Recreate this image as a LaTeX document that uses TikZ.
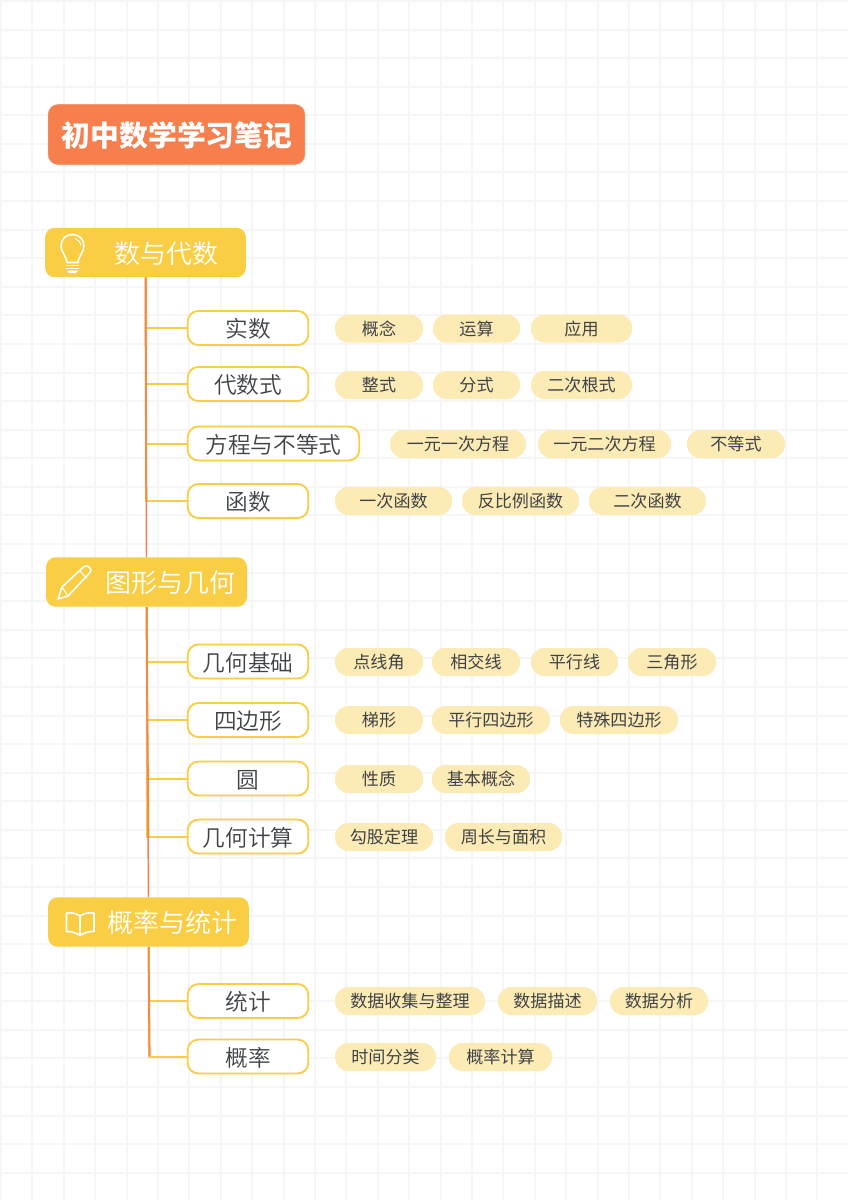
\documentclass[tikz,border=0pt]{standalone}
\usepackage{fontspec}
\usetikzlibrary{backgrounds}
\setmainfont{Noto Sans CJK SC}
\newfontfamily\cjklight{Noto Sans CJK SC DemiLight}
\definecolor{titleorange}{HTML}{F67F4D}
\definecolor{mainyellow}{HTML}{F9CE44}
\definecolor{tagfill}{HTML}{FDEBB5}
\definecolor{gridgray}{HTML}{F6F6F6}
\definecolor{inkgray}{HTML}{3F4348}
\definecolor{stemorange}{HTML}{F58A42}
\tikzset{
  x=0.75pt,y=-0.75pt,
  gridline/.style={gridgray,line width=1.5pt},
  titlebox/.style={fill=titleorange,draw=titleorange!80!white,line width=0.4pt,rounded corners=7.5pt,inner sep=0pt,minimum height=45pt,minimum width=192.5pt,text=white,text height=20.4pt,text depth=2.6pt,font=\fontsize{21.6pt}{24pt}\selectfont\bfseries},
  mainbox/.style={fill=mainyellow,rounded corners=7pt,inner sep=0pt,minimum height=37pt,minimum width=150.5pt,text=white,text height=18.7pt,text depth=2.3pt,font=\fontsize{19.5pt}{22pt}\selectfont\cjklight},
  childbox/.style={fill=white,draw=mainyellow,line width=1.4pt,rounded corners=8pt,inner sep=0pt,minimum height=25.5pt,text=inkgray,text height=16.5pt,text depth=2pt,font=\fontsize{17pt}{20pt}\selectfont\cjklight},
  tagbox/.style={fill=tagfill,rounded corners=10pt,inner sep=0pt,minimum height=21pt,text=inkgray,text height=11.9pt,text depth=1.5pt,font=\fontsize{12.8pt}{15pt}\selectfont},
  branch/.style={mainyellow,line width=1.5pt},
  trunk/.style={titleorange,line width=1.1pt},
  stem/.style={stemorange,line width=1.5pt},
  icon/.style={white,line width=1.2pt,line join=round,line cap=round},
}
\newcommand{\tagn}[5]{\node[tagbox,minimum width={(#3-#2)*0.75pt}] (#1) at ({(#2+#3)/2},#4) {#5};}
\newcommand{\childn}[5]{\node[childbox,minimum width={(#3-#2-1.5)*0.75pt}] (#1) at ({(#2+#3)/2},#4) {#5};}
\begin{document}
\begin{tikzpicture}
\useasboundingbox (0,0) rectangle (848,1200);

\node[titlebox] (title) at (176.5,134.5) {\hspace{1pt}初中数学学习笔记};

\node[mainbox] (m1) at (145.5,252.5) {\hspace{31pt}数与代数};
\node[mainbox] (m2) at (146.5,582) {\hspace{36pt}图形与几何};
\node[mainbox] (m3) at (148.5,922) {\hspace{36pt}概率与统计};

% children
\childn{c11}{187}{309}{328}{实数}
\childn{c12}{187}{309}{384}{代数式}
\childn{c13}{187}{360}{443.5}{方程与不等式}
\childn{c14}{187}{309}{501}{函数}
\childn{c21}{187}{309}{661.5}{几何基础}
\childn{c22}{187}{309}{720}{四边形}
\childn{c23}{187}{309}{778.5}{圆}
\childn{c24}{187}{309}{836.5}{几何计算}
\childn{c31}{187}{309}{1001}{统计}
\childn{c32}{187}{309}{1056.5}{概率}

\coordinate (e1) at (146.3,500);
\coordinate (e2) at (148.3,836);
\coordinate (e3) at (149.6,1056);

\begin{pgfonlayer}{background}
\fill[white] (0,0) rectangle (848,1200);
\foreach \i in {0,...,27} \draw[gridline] ({1+31.4*\i},0) -- ({1+31.4*\i},1200);
\foreach \i in {0,...,42} \draw[gridline] (0,{1+28.58*\i}) -- (848,{1+28.58*\i});
\foreach \c in {c11,c12,c13,c14} \draw[branch] (m1.south) |- (\c.west);
\foreach \c in {c21,c22,c23,c24} \draw[branch] (m2.south) |- (\c.west);
\foreach \c in {c31,c32} \draw[branch] (m3.south) |- (\c.west);
\draw[trunk] (m1.south) -- (m2.north);
\draw[trunk] (m2.south) -- (m3.north);
\draw[stem] (m1.south) -- (e1);
\draw[stem] (m2.south) -- (e2);
\draw[stem] (m3.south) -- (e3);
\end{pgfonlayer}

% bulb icon
\draw[icon] (67,262.5) .. controls (66,255) and (61,252) .. (61,246)
  .. controls (61,239) and (66,234.5) .. (72.5,234.5)
  .. controls (79,234.5) and (84,239) .. (84,246)
  .. controls (84,252) and (79,255) .. (78,262.5) -- cycle;
\draw[icon,line width=0.7pt] (75,238.5) .. controls (78,239.5) and (80.5,242) .. (81,245.5);
\draw[icon] (66.5,265.5) -- (78.5,265.5);
\draw[icon] (66.5,268.5) -- (78.5,268.5);
\fill[white] (67,270.5) -- (78,270.5) -- (76,273) -- (69,273) -- cycle;

% pencil icon
\draw[icon] (58,599) -- (62,587) -- (84,566.5) .. controls (86,565) and (88,566) .. (89.5,567.5)
  .. controls (91,569) and (91.5,571) .. (90,572.5) -- (68,596) -- cycle;
\draw[icon,line width=0.8pt] (79.5,570.5) -- (86.5,578);
\draw[icon,line width=0.8pt] (62,587) -- (68,596);

% book icon
\draw[icon] (80,916) .. controls (76,913) and (71,912.5) .. (66.5,913) -- (66.5,931.5)
  .. controls (71,931) and (76,933) .. (80,935.5)
  .. controls (84,933) and (89,931) .. (94,931.5) -- (94,913)
  .. controls (89,912.5) and (84,913) .. (80,916) -- cycle;
\draw[icon] (80,916) -- (80,935.5);

% tags
\tagn{t111}{335}{423}{328.5}{概念}
\tagn{t112}{433}{520}{328.5}{运算}
\tagn{t113}{531}{632}{328.5}{应用}
\tagn{t121}{335}{423}{385}{整式}
\tagn{t122}{433}{520}{385}{分式}
\tagn{t123}{531}{632}{385}{二次根式}
\tagn{t131}{390}{526}{444}{一元一次方程}
\tagn{t132}{538}{671}{444}{一元二次方程}
\tagn{t133}{687}{785}{444}{不等式}
\tagn{t141}{335}{452}{501}{一次函数}
\tagn{t142}{462}{579}{501}{反比例函数}
\tagn{t143}{589}{706}{501}{二次函数}
\tagn{t211}{335}{423}{662}{点线角}
\tagn{t212}{432}{520}{662}{相交线}
\tagn{t213}{531}{618}{662}{平行线}
\tagn{t214}{628}{716}{662}{三角形}
\tagn{t221}{335}{423}{720}{梯形}
\tagn{t222}{432}{550}{720}{平行四边形}
\tagn{t223}{560}{678}{720}{特殊四边形}
\tagn{t231}{335}{423}{779}{性质}
\tagn{t232}{432}{530}{779}{基本概念}
\tagn{t241}{335}{433}{837}{勾股定理}
\tagn{t242}{445}{562}{837}{周长与面积}
\tagn{t311}{335}{485}{1001}{数据收集与整理}
\tagn{t312}{498}{597}{1001}{数据描述}
\tagn{t313}{610}{708}{1001}{数据分析}
\tagn{t321}{335}{436}{1057}{时间分类}
\tagn{t322}{449}{552}{1057}{概率计算}
\end{tikzpicture}
\end{document}
